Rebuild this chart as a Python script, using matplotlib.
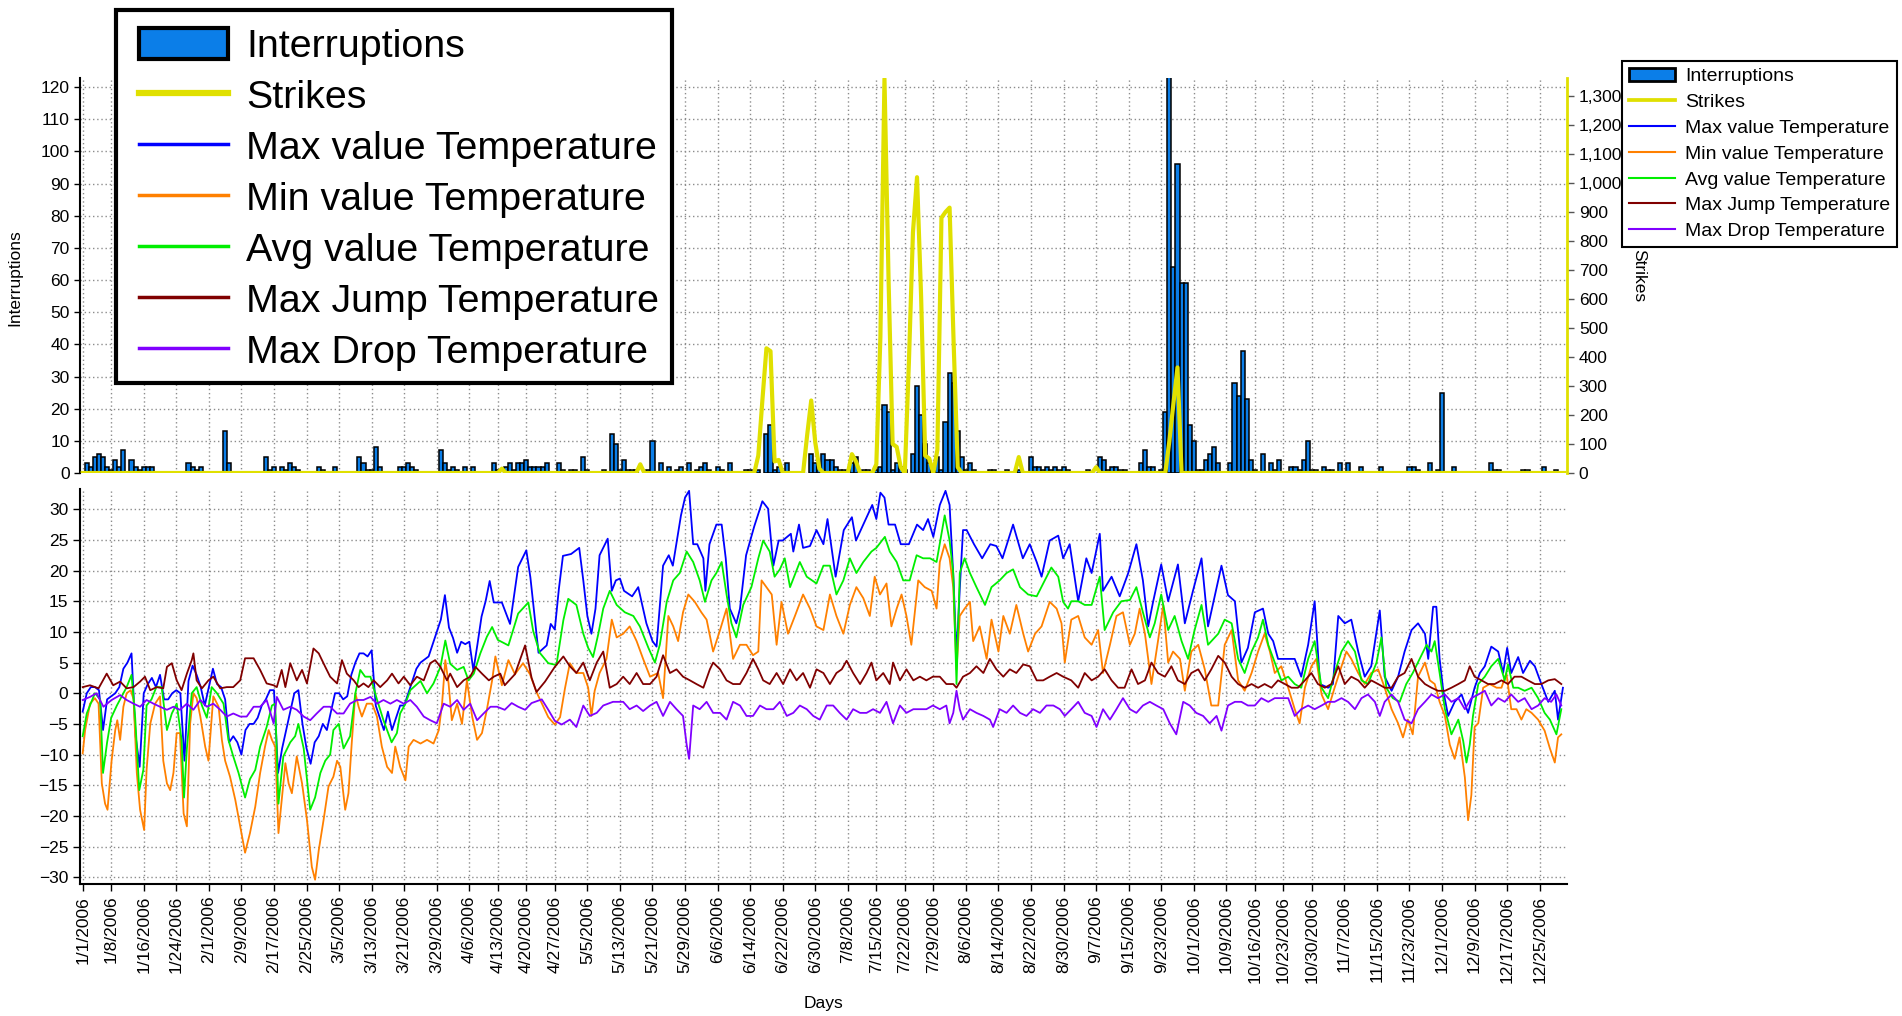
import datetime as dt

import matplotlib
matplotlib.use("Agg")
import matplotlib.pyplot as plt
import numpy as np
from matplotlib.lines import Line2D
from matplotlib.patches import Patch, Rectangle
from matplotlib.ticker import FuncFormatter, MultipleLocator

plt.rcParams['font.family'] = ['Liberation Sans', 'DejaVu Sans']

# ---- data (x = day of 2006, 0 = Jan 1) ----
tick_labels = ["1/1/2006", "1/8/2006", "1/16/2006", "1/24/2006", "2/1/2006", "2/9/2006",
               "2/17/2006", "2/25/2006", "3/5/2006", "3/13/2006", "3/21/2006", "3/29/2006",
               "4/6/2006", "4/13/2006", "4/20/2006", "4/27/2006", "5/5/2006", "5/13/2006",
               "5/21/2006", "5/29/2006", "6/6/2006", "6/14/2006", "6/22/2006", "6/30/2006",
               "7/8/2006", "7/15/2006", "7/22/2006", "7/29/2006", "8/6/2006", "8/14/2006",
               "8/22/2006", "8/30/2006", "9/7/2006", "9/15/2006", "9/23/2006", "10/1/2006",
               "10/9/2006", "10/16/2006", "10/23/2006", "10/30/2006", "11/7/2006", "11/15/2006",
               "11/23/2006", "12/1/2006", "12/9/2006", "12/17/2006", "12/25/2006"]

interrupt_days = [1, 2, 3, 4, 5, 6, 7, 8, 9, 10, 12, 13, 14, 15, 16, 17, 26, 27, 28, 29, 35, 36,
                  45, 46, 47, 49, 50, 51, 52, 53, 58, 59, 62, 68, 69, 70, 71, 72, 73, 78, 79, 80,
                  81, 82, 88, 89, 90, 91, 92, 94, 96, 101, 102, 104, 105, 106, 107, 108, 109, 110,
                  111, 112, 113, 114, 117, 118, 120, 121, 123, 124, 128, 130, 131, 132, 133, 134,
                  135, 136, 139, 140, 142, 144, 146, 147, 149, 151, 152, 153, 154, 156, 157, 159,
                  163, 164, 166, 168, 169, 170, 171, 173, 179, 180, 181, 182, 183, 184, 185, 186,
                  187, 189, 190, 192, 193, 195, 196, 197, 198, 199, 200, 201, 202, 204, 205, 206,
                  207, 208, 209, 210, 211, 212, 213, 214, 215, 216, 217, 218, 219, 223, 224, 227,
                  230, 233, 234, 235, 236, 237, 238, 239, 240, 241, 242, 247, 250, 251, 252, 253,
                  254, 255, 256, 260, 261, 262, 263, 265, 266, 267, 268, 269, 270, 271, 272, 273,
                  274, 275, 276, 277, 278, 279, 282, 283, 284, 285, 286, 287, 288, 290, 292, 293,
                  294, 297, 298, 299, 300, 301, 302, 303, 305, 306, 307, 309, 311, 314, 319, 326,
                  327, 328, 331, 333, 334, 337, 346, 347, 348, 354, 355, 359, 362]
interrupt_counts = [3, 2, 5, 6, 5, 2, 1, 4, 2, 7, 4, 2, 1, 2, 2, 2, 3, 2, 1, 2, 13, 3,
                    5, 1, 2, 2, 1, 3, 2, 1, 2, 1, 2, 5, 3, 1, 1, 8, 2, 2, 2, 3,
                    2, 1, 7, 3, 1, 2, 1, 2, 2, 3, 1, 2, 3, 1, 3, 3, 4, 2,
                    2, 2, 2, 3, 3, 1, 1, 1, 5, 1, 1, 12, 9, 1, 4, 1,
                    1, 1, 1, 10, 3, 2, 1, 2, 3, 1, 2, 3, 1, 2, 1, 3,
                    1, 1, 1, 12, 15, 1, 2, 3, 6, 3, 2, 6, 4, 4, 2, 1,
                    1, 3, 5, 1, 1, 1, 2, 21, 19, 1, 3, 2, 1, 6, 27, 18,
                    9, 3, 1, 5, 1, 16, 31, 28, 13, 5, 1, 3, 1, 1, 1, 1,
                    1, 5, 2, 2, 1, 2, 1, 2, 1, 2, 1, 1, 5, 4, 1, 2,
                    2, 1, 1, 3, 7, 2, 2, 1, 19, 123, 64, 96, 59, 59, 15, 10,
                    1, 1, 4, 6, 8, 3, 3, 28, 24, 38, 23, 4, 1, 6, 3, 1,
                    4, 2, 2, 1, 4, 10, 1, 1, 2, 1, 1, 3, 3, 2, 2, 2,
                    2, 1, 3, 1, 25, 2, 3, 1, 1, 1, 1, 2, 1]

strike_days = [103, 137, 166, 167, 168, 169, 170, 171, 178, 179, 180, 181, 189, 190, 195, 196,
               197, 198, 199, 200, 201, 203, 204, 205, 206, 207, 208, 210, 211, 212, 213, 214,
               215, 230, 249, 267, 268, 269]
strike_counts = [15, 30, 60, 250, 430, 420, 40, 45, 130, 250, 105, 15, 65, 40, 30, 470,
                 1360, 670, 100, 90, 20, 380, 830, 1020, 610, 60, 50, 80, 880, 900, 915, 447,
                 20, 55, 20, 110, 240, 364]

tmax_pts = [(0, -3), (1, 0), (2, 1), (3, 1), (4, 0.5), (5, -6), (6, -1), (7, -0.5), (8, 0), (9, 1),
            (10, 4), (11, 5), (12, 6.5), (13, -7), (14, -12), (15, 0), (16, 1.5), (17, 2.5), (18, 1),
            (19, 3), (20, -1), (21, -1), (22, 0), (23, 0.5), (24, 0), (25, -11), (26, 2), (27, 4.5),
            (28, 3), (29, 1), (30, -2), (31, 1), (32, 4), (33, 1.5), (34, 1), (35, -1), (36, -8),
            (37, -7), (38, -8), (39, -10), (40, -6), (41, -5), (42, -5), (43, -4), (44, -2), (45, -1),
            (46, 0.5), (47, 0.5), (48, -13), (49, -9), (50, -6), (51, -3), (52, 0), (53, 0.5), (54, -5),
            (55, -9), (56, -11.5), (57, -8), (58, -7), (59, -5), (60, -6), (61, -3), (62, 0), (63, 0),
            (64, -1), (65, -0.5), (66, 3), (67, 5), (68, 6.5), (69, 6.5), (70, 6), (71, 7), (72, -2),
            (73, -4), (74, -6), (75, -3), (76, -6), (77, -4), (78, -2), (79, -2), (80, 0), (81, 2),
            (82, 4), (83, 5), (84, 5.5), (85, 6), (86, 8), (87, 10), (88, 12), (89, 16), (90, 10.7),
            (91, 9), (92, 6.6), (93, 8.4), (94, 8), (95, 8.4), (96, 3.7), (97, 8), (98, 12.5), (99, 15),
            (100, 18.3), (101, 14.8), (103, 14.8), (105, 11.3), (107, 20.6), (109, 23.3), (110, 18.9),
            (112, 6.6), (114, 7.8), (115, 11.3), (116, 10.4), (117, 17), (118, 22.4), (120, 22.7),
            (122, 23.7), (123, 18.4), (124, 12.6), (125, 9.7), (126, 13.8), (127, 22.5), (129, 25.2),
            (130, 16.7), (131, 18.4), (132, 18.7), (133, 16.7), (135, 15.8), (136.5, 17.3), (138.5, 11.4),
            (140, 8.5), (141, 7.6), (142.6, 20.8), (144, 22.5), (145, 20.8), (146, 24.9), (147, 29),
            (148, 31.9), (149, 33), (150, 24.3), (151, 24.3), (152.5, 22), (153, 16.7), (154, 24.3),
            (155.7, 27.5), (157, 27.5), (158, 22), (159, 13.8), (160.6, 11.4), (161.5, 13.8), (163, 22.5),
            (165, 27.2), (167, 31.3), (168.4, 30.1), (169.7, 20.8), (171, 24.9), (172, 24.9), (174, 26),
            (174.6, 23.1), (176, 27.5), (177, 23.7), (178.7, 24), (180.3, 26.6), (182, 24.3), (183, 28.4),
            (185, 19), (187, 26.6), (189, 28.7), (190, 24.9), (192, 27.8), (194, 30.7), (195, 28.4),
            (196, 32.7), (197, 31.9), (198, 27.5), (199.6, 27.5), (201, 24.3), (203, 24.3), (205, 27.5),
            (206.5, 26.6), (207.7, 28.4), (209, 25.5), (210.6, 30.7), (212, 33), (213, 30.7), (214, 18),
            (214.7, 6), (215.5, 17), (216.3, 26.6), (217.2, 26.6), (219, 24.3), (221, 22), (223, 24.3),
            (224.5, 24), (226, 22), (228.6, 27.5), (231, 22), (232.7, 24.3), (234.4, 21.4), (235.6, 19),
            (237.6, 24.9), (239.7, 25.7), (240.9, 22), (242.5, 24.3), (244.6, 15), (246.6, 22),
            (247.9, 19.6), (249.9, 26), (250.7, 16.7), (252.8, 19), (254.8, 15.8), (256.9, 19.6),
            (258.9, 24.3), (260.5, 18.4), (261.8, 10.9), (263, 14.9), (265, 21), (266.7, 15), (269.1, 21),
            (270.8, 11.4), (272.8, 16.7), (274.9, 22), (276.5, 10.9), (278.2, 16), (279.8, 20.8),
            (281.4, 16), (283.1, 15), (284.7, 5), (286.3, 7.4), (288, 13.2), (290, 13.8), (291.3, 9.7),
            (292.5, 8.5), (293.7, 5.6), (295.4, 5.6), (297.8, 5.6), (299.4, 2.7), (301.1, 7.9),
            (302.7, 15), (304, 1.5), (306, 0.9), (307.2, 1.5), (308.5, 12.6), (310.1, 11.4), (311.7, 12),
            (313.4, 6.8), (315, 2.7), (316.6, 4.4), (318.7, 13.5), (319.9, 2.7), (321.6, 0.4),
            (323.2, 2.7), (324.8, 6.8), (326.5, 10.3), (328.1, 11.4), (329.8, 9.7), (330.6, 5.6),
            (331.8, 14.1), (332.6, 14.1), (333.4, 5.6), (334.3, 0.4), (335.5, -3.7), (337.1, -1.4),
            (338.8, -0.2), (340.4, -3.2), (342, 0.9), (343.3, 3.3), (344.5, 4.4), (346.1, 7.6),
            (347.8, 6.8), (349, 3.3), (350, 7.4), (351, 3.3), (352.7, 5.9), (353.9, 3.3), (355.6, 5.3),
            (356.8, 4.4), (358.4, 1.5), (360.1, -1.4), (361.7, 0.4), (362.5, -4.3), (363.7, 0.9)]

tmin_pts = [(0, -9.8), (0.6, -6), (1.8, -1.7), (3, -0.8), (3.9, -1.7), (4.7, -14.7), (5.5, -18),
            (6.1, -19), (7.1, -11), (8, -6), (8.5, -4.4), (9.2, -7.6), (10, -2.2), (10.8, 0), (11.8, 0.5),
            (12.5, -1), (13.3, -13), (14.1, -19), (15.1, -22.3), (15.7, -12.5), (16.6, -5), (17.8, -1.7),
            (19, -0.5), (19.8, -11), (20.7, -14.7), (21.5, -15.8), (22.3, -13), (23.1, -6.5),
            (23.9, -6.5), (24.8, -19.6), (25.6, -21.7), (26.4, -5), (27.2, 0), (28, -0.8), (28.9, -3.8),
            (30.1, -8.7), (30.9, -11), (32.1, -0.5), (33.4, -2.2), (34.2, -7.6), (35, -11), (36.2, -13.6),
            (37.5, -17.4), (38.7, -21.7), (39.9, -26), (41.1, -22.8), (42.4, -18.5), (43.6, -13),
            (44.8, -8.7), (45.7, -6), (46.5, -7.6), (47.3, -8.7), (48.1, -22.8), (48.9, -17.4),
            (49.8, -11.4), (50.6, -14.7), (51.4, -16.3), (52.6, -10.3), (53.9, -14.7), (55.1, -20.6),
            (56.3, -28.3), (57.1, -30.4), (58, -25.6), (59.2, -20.6), (60.4, -15.2), (61.6, -13.6),
            (62.5, -11), (63.3, -12), (64.5, -19), (65.3, -16.3), (66.1, -8.2), (67, 0), (67.8, -2.2),
            (68.6, -3.8), (69.8, -1.7), (71.1, -1.7), (72.3, -3.8), (73.5, -8.7), (74.8, -12), (76, -13),
            (76.8, -8.7), (78, -12), (79.3, -14.2), (80.1, -8.7), (81.3, -7.6), (83, -8.2), (84.6, -7.6),
            (86.2, -8.2), (87.5, -6), (88.3, -1.7), (89.1, 5.4), (89.9, 1.6), (90.7, -4.4), (92, -1.7),
            (93.2, -5), (94.4, 2.1), (95.7, -3.8), (96.9, -7.6), (98.1, -6.5), (99.3, -2.7), (100.6, 2.1),
            (101.4, 6), (103, 1.3), (104.6, 5.4), (106.2, 3.1), (108.2, 4.9), (109.9, 3.1), (111.5, 0.2),
            (113.2, -2.2), (114.4, -3.9), (116, -5.1), (117.3, -3.9), (118.5, 0.8), (119.7, 4.9),
            (121.3, 3.3), (123, 3.3), (124.2, 0.9), (125, -3.7), (125.8, 0.4), (127, 3.3), (128.7, 5.6),
            (130, 12), (131.2, 9.1), (132.8, 9.7), (134.4, 10.9), (136.1, 8.5), (137.7, 5.6), (139.4, 2.7),
            (141.4, 3.3), (142.6, -0.8), (143.9, 12.6), (145.1, 10.9), (146.3, 8.5), (147.5, 13.2),
            (148.8, 16.1), (150.4, 14.9), (152, 13.2), (153.3, 12), (154.9, 6.8), (156.6, 10.3),
            (158.2, 13.8), (159.8, 5.6), (161.5, 7.9), (163.1, 7.9), (164.7, 6.2), (166, 6.8),
            (166.8, 18.4), (168, 17.3), (169.3, 16.1), (170.5, 7.9), (171.7, 14.9), (173.3, 9.7),
            (175, 12.6), (177, 16.1), (178.7, 13.8), (180.3, 10.9), (182, 10.3), (183.6, 16.1),
            (185.2, 12.6), (186.9, 9.7), (188.5, 14.4), (190.1, 17.3), (191.8, 15.5), (193.4, 12.6),
            (194.6, 19), (195.9, 16.1), (197.5, 17.9), (198.7, 10.9), (200, 13.8), (201.2, 16.1),
            (202.4, 12.6), (203.6, 7.9), (205.3, 18.4), (206.9, 17.3), (208.6, 16.7), (209.8, 13.8),
            (210.6, 21.4), (211.8, 24.3), (213, 22), (213.9, 17.3), (214.7, 3.9), (215.5, 12.6),
            (216.7, 13.8), (218, 14.9), (218.8, 8.5), (220.4, 10.9), (222.1, 5.6), (223.3, 12),
            (225, 6.8), (226.2, 12.6), (227.8, 9.7), (229.4, 14.4), (231.1, 9.7), (232.3, 6.8),
            (234, 9.7), (235.6, 10.9), (237.6, 14.9), (239.3, 13.8), (240.5, 11.4), (241.3, 5),
            (242.9, 12), (244.6, 12.6), (246.2, 9.1), (247.9, 7.9), (249.5, 10.3), (250.7, 3.3),
            (252.4, 7.9), (254, 12.6), (255.6, 13.2), (257.3, 7.9), (258.5, 9.7), (259.7, 13.8),
            (261, 9.7), (262.6, 1.5), (264.2, 8.5), (265.5, 14.4), (266.7, 5), (267.9, 6.8), (269.6, 5.6),
            (270.8, 0.4), (272.4, 6.8), (274.1, 7.9), (275.7, 3.9), (277.3, -2), (279, -2), (280.6, 7.9),
            (282.3, 10.3), (283.9, 2.1), (285.5, 0.4), (287.2, 3.3), (288.8, 6.8), (290.4, 9.7),
            (291.7, 6.8), (292.9, 3.3), (294.5, 4.4), (296.2, 0.9), (297.8, -2.6), (299, -4.9),
            (300.3, 0.9), (301.9, 4.4), (303.1, 5.6), (304.4, -0.2), (306, -2.6), (307.6, 0.9),
            (309.3, 4.4), (310.5, 6.8), (311.7, 5.6), (313.4, 3.3), (315, 1.5), (316.6, 3.3),
            (318.3, 3.9), (319.9, 0.9), (321.6, -2.6), (323.2, -4.9), (324.4, -7.2), (325.6, -4.3),
            (326.8, -6.7), (328.1, 2.7), (329.8, 5), (331, 2.1), (332.2, 1.5), (333.4, -1.4),
            (334.7, -3.7), (335.9, -8.4), (337.1, -10.7), (338.3, -7.2), (339.6, -13.7), (340.4, -20.7),
            (341.2, -16.6), (342, -5.5), (342.9, -4.9), (344.1, 0.9), (345.7, 1.5), (347.4, 0.9),
            (348.6, 0.9), (349.8, 3.3), (351, -2.6), (352.3, -2.6), (353.5, -4.3), (354.7, -2.6),
            (356, -3.2), (357.6, -4.3), (359.2, -6.1), (360.5, -9), (361.7, -11.3), (362.5, -7.2),
            (363.3, -6.7)]

tavg_pts = [(0, -7), (1, -3.3), (3, 0), (4.3, -1), (5, -13), (6, -8), (7, -4), (8.4, -2), (9.6, -0.5),
            (10.8, 1), (12, 3), (12.9, -4), (13.9, -15.8), (14.9, -12.5), (15.7, -2), (16.9, -1),
            (18.1, 1), (19.4, 1), (20.7, -6), (21.9, -3.3), (23.1, -1.7), (24.3, -7.6), (24.9, -17),
            (25.6, -9), (26.8, 0), (28, 1), (29.3, -2), (30.5, -4), (31.7, 1), (33, 0), (34.6, -1.7),
            (35.8, -7.6), (37, -10.3), (38.3, -13), (39.9, -17), (41.1, -14), (42.4, -12.5), (43.6, -8.7),
            (45.2, -5.5), (46.5, -2), (47.3, -1.7), (48.1, -18), (49.3, -10.3), (51, -8), (52.2, -7),
            (53, -5), (54.3, -9), (55.9, -19), (57.1, -17), (58.4, -13), (59.6, -11), (60.8, -10),
            (61.6, -6), (62.9, -5), (64.1, -9), (65.7, -7), (67, 0), (68.2, 3.8), (69.4, 2.7), (70.7, 2.7),
            (72.3, -1), (73.9, -4.4), (75.9, -8), (77.2, -6.5), (78, -3.3), (79.3, -1.7), (80.5, 0.5),
            (83, 2), (84.6, 0), (86.2, 1.6), (87.9, 4.3), (89.1, 8.6), (90.3, 4.8), (92, 3.8), (93.6, 4.3),
            (94.8, 2.1), (96.1, 3.2), (97.7, 6.5), (99.3, 9.2), (100.6, 10.8), (102, 8.7), (104.6, 7.8),
            (107, 13), (109.5, 14.8), (110.7, 10.1), (112.3, 6.6), (114.4, 4.9), (116.4, 4.6),
            (118.1, 11.9), (119.3, 15.4), (121.3, 14.4), (123, 9.7), (124.2, 7.4), (125.4, 5.9),
            (126.7, 9.7), (127.9, 13.8), (129.5, 16.7), (131.2, 14.4), (133.2, 13.2), (135.3, 12.6),
            (136.9, 10.9), (139, 7.4), (140.6, 5), (141.8, 7.9), (143.5, 14.9), (145.1, 18.4),
            (146.7, 19.6), (148.4, 23.1), (150, 21.4), (151.6, 18.4), (152.9, 14.9), (154.5, 18.4),
            (155.7, 19.6), (157, 21.4), (158.2, 16.1), (159.4, 11.4), (160.6, 9.1), (162.3, 14.4),
            (164.3, 17.3), (166, 22), (167.2, 24.9), (168.8, 23.1), (170, 19), (171.3, 20.2), (172.5, 22),
            (173.8, 17.3), (176.2, 21.4), (177.9, 19), (180.3, 17.9), (182, 20.8), (183.6, 20.8),
            (185.2, 16.1), (186.9, 18.4), (188.5, 22), (190.1, 19.6), (191.8, 21.4), (193.8, 23.1),
            (195, 23.7), (197.1, 25.5), (198.3, 23.1), (200, 21.4), (201.6, 18.4), (203.2, 18.4),
            (204.9, 22.5), (206.5, 22), (208.2, 22), (209.8, 21.4), (211, 26), (211.8, 29), (213, 24.9),
            (213.9, 19.6), (214.7, 1.5), (215.5, 19.6), (216.7, 22), (218, 19.6), (219.6, 17.3),
            (221.7, 14.4), (223.3, 17.3), (225.3, 18.4), (227, 19.6), (228.6, 20.2), (230.3, 17.3),
            (232.3, 16.1), (234.4, 15.8), (236.4, 18.4), (238, 20.5), (239.7, 19), (240.9, 14.9),
            (242.1, 13.8), (242.9, 15), (244.6, 15), (246.2, 14.4), (247.9, 14.4), (249.9, 19),
            (251.1, 10.3), (253.2, 13.2), (255.2, 15), (257.3, 15.2), (258.9, 17.3), (260.5, 13.2),
            (262.2, 9.1), (263.4, 11.4), (265, 16.1), (266.7, 10.3), (268.3, 12.6), (270, 8.5),
            (271.6, 5.6), (273.2, 10.3), (274.9, 14.4), (276.5, 7.9), (279, 9.7), (280.6, 12),
            (282.3, 11.4), (283.9, 5.6), (285.5, 3.3), (287.2, 6.8), (288.8, 9.1), (290, 12), (291.3, 7.9),
            (292.9, 5), (294.5, 2.1), (296.2, 2.7), (297.8, 1.5), (299.4, 0.9), (301.1, 5.6), (302.7, 8.5),
            (304.4, 0.9), (306, -0.8), (307.6, 3.3), (309.3, 6.8), (310.9, 8.5), (312.6, 6.8),
            (314.2, 2.1), (315.8, 1.5), (317.9, 5), (319.1, 9.1), (320.3, 0.9), (321.9, -0.8),
            (323.6, -1.4), (325.2, 1.5), (326.8, 3.3), (328.5, 5.6), (330.2, 7.9), (331.4, 6.8),
            (332.2, 8.5), (333.4, 3.3), (334.7, -2.6), (336.3, -6.7), (338, -4.3), (339.2, -7.8),
            (340, -11.3), (340.8, -8.4), (341.6, -3.7), (342.9, 1.5), (344.5, 2.7), (346.1, 4.4),
            (347.8, 5.6), (349.4, 2.1), (350.2, 4.7), (351.5, 0.9), (352.7, 0.9), (354.3, 0.4),
            (356, 0.9), (357.6, -0.8), (359.2, -3.2), (360.5, -4.3), (362.1, -6.7), (363.3, -2.6)]

jump_pts = [(0, 1), (1.8, 1.3), (3.9, 0.8), (5.9, 3.2), (7.5, 1.3), (9.2, 1.9), (10.8, 0.8), (12.5, 1),
            (14.1, 1.9), (15.3, 2.7), (16.6, 0.5), (18.2, 1), (19.8, 0.8), (20.7, 4.3), (21.9, 4.9),
            (23.1, 2.1), (24.3, 0.5), (25.6, 3.2), (26.8, 5.4), (27.2, 6.5), (28, 2.1), (29.3, 0.8),
            (30.9, 2.1), (32.1, 2.7), (33.8, 0.8), (35.4, 1), (37, 1), (38.7, 2.1), (39.9, 5.7), (42, 5.7),
            (43.6, 3.8), (45.2, 1.6), (46.9, 1.3), (47.7, 1), (48.9, 3.8), (49.8, 1), (51, 4.9),
            (52.6, 2.1), (53.9, 3.8), (55.1, 1.6), (56.7, 7.3), (58, 6.5), (59.6, 4.3), (60.8, 2.7),
            (62.5, 1.6), (63.7, 5.4), (64.9, 3.2), (66.6, 2.1), (67.8, 1), (69, 1.6), (70.2, 1),
            (71.5, 2.1), (73.1, 1), (74.8, 2.1), (76, 3.2), (77.6, 1.6), (78.9, 2.7), (80.5, 1.3),
            (82.1, 2.7), (83.8, 2.1), (85.4, 4.9), (86.6, 5.4), (87.9, 4.3), (89.5, 2.1), (90.3, 3.2),
            (92, 1), (93.6, 2.1), (95.2, 2.7), (96.5, 4.3), (98.1, 3.2), (99.8, 2.1), (101, 2.7),
            (102.6, 3.2), (103.7, 1.3), (106.2, 3.1), (108.7, 7.8), (110.3, 2.5), (111.5, 0.2),
            (113.6, 1.9), (116, 4.3), (118.1, 6), (119.7, 4.4), (121.3, 3.3), (123, 5), (124.6, 2.1),
            (126.3, 5), (127.9, 6.8), (129.5, 0.9), (131.2, 1.5), (132.8, 2.7), (134.4, 1.5), (136.1, 3.3),
            (137.7, 1.5), (139.4, 1.5), (141, 2.7), (142.6, 6.2), (144.3, 3.3), (145.9, 3.9), (147.5, 2.7),
            (149.2, 2.1), (150.8, 1.5), (152.5, 0.9), (154.1, 3.9), (154.9, 5), (156.6, 3.9), (158.2, 2.1),
            (159.8, 1.5), (161.5, 1.5), (163.1, 3.3), (164.7, 5.6), (166, 3.9), (167.2, 2.1), (168.8, 1.5),
            (170.5, 3.3), (172.1, 1.5), (173.8, 3.9), (175.4, 2.1), (177, 3.3), (178.7, 0.9), (180.3, 3.9),
            (182, 3.3), (183.6, 1.5), (185.2, 3.3), (186.5, 3.9), (187.7, 5.3), (189.3, 3.3), (191, 1.5),
            (192.6, 3.3), (193.8, 5), (195, 2.1), (196.7, 3.3), (198.3, 1.5), (199.1, 5), (200.8, 2.1),
            (202.4, 3.9), (204.1, 2.1), (205.7, 2.7), (207.3, 2.1), (208.9, 2.7), (210.6, 2.7),
            (212.2, 1.5), (213.9, 1.5), (214.7, 0.9), (216.3, 2.7), (218, 3.3), (219.6, 4.4), (221.3, 3.3),
            (222.9, 5.6), (224.5, 3.9), (226.2, 2.7), (227.8, 3.9), (229.4, 3.3), (231.1, 4.7),
            (232.7, 4.4), (234.4, 2.1), (236, 2.1), (237.6, 2.7), (239.3, 3.3), (240.9, 2.7), (242.9, 2.1),
            (244.6, 0.9), (246.2, 3.3), (247.9, 2.1), (249.5, 2.7), (251.1, 3.9), (252.8, 2.1),
            (254.4, 0.9), (256, 0.9), (257.7, 3.9), (259.3, 1.5), (261, 2.1), (262.6, 5), (264.2, 3.3),
            (265.9, 2.7), (267.5, 4.4), (269.1, 2.1), (270.8, 1.5), (272.4, 3.3), (274.1, 3.9),
            (275.7, 2.1), (277.3, 3.9), (279, 6.1), (280.6, 5), (282.3, 2.7), (283.9, 1.5), (285.5, 0.9),
            (287.2, 1.5), (288.8, 0.9), (290.4, 1.5), (292.1, 0.9), (293.7, 2.1), (295.4, 1.5), (297, 0.9),
            (298.6, 0.9), (300.3, 2.1), (301.9, 3.3), (303.5, 1.5), (305.2, 0.9), (306.8, 1.5),
            (308.5, 4.4), (310.1, 1.5), (311.7, 2.7), (313.4, 2.1), (315, 0.9), (316.6, 2.1), (318.3, 1.5),
            (319.9, 0.9), (321.6, 0.9), (323.2, 2.7), (324.8, 3.3), (326.5, 5.6), (328.1, 2.7),
            (329.8, 1.5), (331.4, 0.9), (333, 0.4), (334.7, 0.4), (336.3, 0.9), (338, 1.5), (339.6, 2.1),
            (340.8, 4.4), (342, 2.7), (343.7, 2.1), (345.3, 1.5), (346.9, 1.5), (348.6, 2.1), (350.2, 1.5),
            (351.8, 2.7), (353.5, 2.7), (355.1, 2.1), (356.8, 1.5), (358.4, 1.5), (360.1, 2.1),
            (361.7, 2.3), (363.3, 1.5)]

drop_pts = [(0, -1.1), (1.8, -0.6), (3.4, 0), (5.1, -2.2), (7.1, -1.1), (9.2, -0.3), (10.8, -1.1),
            (12.5, -1.7), (14.1, -2.2), (15.7, -1.1), (17.4, -1.7), (19, -2.2), (20.7, -2.7), (22.3, -2.2),
            (23.9, -2.7), (25.6, -1.7), (27.2, -2.7), (28.9, -1.1), (30.5, -2.2), (32.1, -1.7),
            (33.8, -2.7), (35.4, -3.8), (37, -3.3), (38.7, -3.8), (40.3, -3.8), (42, -2.2), (43.6, -2.2),
            (45.2, -1.1), (46.9, -4.9), (47.7, -0.6), (49.3, -2.7), (51, -2.2), (52.6, -2.7), (54.3, -3.8),
            (55.9, -4.4), (57.5, -3.3), (59.2, -2.2), (60.8, -2.2), (62.5, -3.3), (64.1, -3.3),
            (65.7, -1.7), (67.4, -1.1), (69, -1.1), (70.7, -0.6), (72.3, -1.7), (73.9, -1.1), (75.6, -1.7),
            (77.2, -1.1), (78.9, -1.7), (80.5, -1.1), (82.1, -2.2), (83.8, -3.8), (85.4, -4.4), (87, -4.9),
            (88.7, -1.7), (90.3, -2.2), (92, -1.1), (93.6, -2.7), (95.2, -1.7), (96.9, -4.4), (98.5, -3.3),
            (100.2, -2.2), (101.8, -2.2), (103.7, -2.7), (105.4, -1.6), (107, -2.2), (108.7, -2.7),
            (110.3, -1.6), (112.8, -1), (114.4, -2.7), (116, -4.5), (117.7, -5.1), (119.7, -4.3),
            (121.3, -5.5), (123, -2), (124.6, -3.7), (126.3, -3.2), (127.9, -2), (130.3, -1.4),
            (132.8, -1.4), (134.4, -2.6), (136.1, -2), (137.7, -2.9), (139.4, -2), (141, -1.4),
            (142.6, -3.7), (144.3, -1.4), (145.9, -2.6), (147.5, -3.7), (148.4, -8.4), (149, -10.7),
            (150, -2), (151.6, -2.6), (153.3, -1.4), (154.9, -3.2), (156.6, -3.2), (158.2, -4.3),
            (159.8, -1.4), (161.5, -2), (163.1, -3.7), (164.7, -3.7), (166.4, -2), (168, -2.6),
            (169.7, -2.6), (171.3, -1.4), (173, -3.7), (174.6, -3.2), (176.2, -2), (177.9, -2.6),
            (179.5, -3.7), (181.1, -4.3), (182.8, -2), (184.4, -2), (186, -3.2), (187.7, -4.3),
            (189.3, -2.6), (191, -3.2), (192.6, -3.2), (194.2, -2.6), (195.9, -3.2), (197.5, -1.4),
            (199.1, -4.9), (200.8, -2), (202.4, -3.2), (204.1, -2.6), (205.7, -2.6), (207.3, -2.6),
            (208.9, -2), (210.6, -2.6), (212.2, -2), (213, -4.9), (213.9, -3.2), (214.7, 0.4),
            (215.5, -2.6), (216.3, -4.3), (218, -2.6), (219.6, -3.2), (221.3, -3.7), (222.9, -4.3),
            (223.7, -5.5), (225.3, -2.6), (227, -3.2), (228.6, -2), (230.3, -3.2), (231.9, -3.7),
            (233.5, -2.6), (235.2, -3.2), (236.8, -2), (238.5, -2), (240.1, -2.6), (241.3, -3.7),
            (242.9, -2.6), (244.6, -1.4), (246.2, -3.2), (247.9, -3.7), (249.1, -5.5), (250.7, -2.6),
            (252.4, -4.3), (254, -2.6), (255.6, -0.8), (257.3, -2.6), (258.9, -3.2), (260.5, -2),
            (262.2, -1.4), (263.8, -2), (265.5, -2.6), (267.1, -4.9), (268.7, -6.7), (270.4, -1.4),
            (272, -2), (273.6, -3.2), (275.3, -3.7), (276.9, -4.9), (278.6, -3.7), (279.8, -6.1),
            (281.4, -2), (283.1, -1.4), (284.7, -1.4), (286.3, -2), (288, -2), (289.6, -0.8),
            (291.3, -1.4), (292.9, -0.8), (294.5, -0.8), (296.2, -0.8), (297.8, -3.7), (299.4, -2.6),
            (301.1, -2), (302.7, -2.6), (304.4, -2), (306, -1.4), (307.6, -1.4), (309.3, -0.8),
            (310.9, -1.4), (312.6, -2.6), (314.2, -0.8), (315.8, -0.2), (317.5, -1.4), (318.7, -3.7),
            (319.9, -1.4), (321.6, -0.2), (323.2, -1.4), (324.8, -4.3), (326.5, -4.9), (328.1, -2.6),
            (329.8, -1.4), (331.4, -0.2), (333, -0.8), (334.7, -0.2), (336.3, -1.4), (338, -0.8),
            (339.6, -2.6), (341.2, -0.8), (342.9, -0.2), (344.5, 0.4), (346.1, -2), (347.8, -0.8),
            (349.4, -1.4), (351, -0.2), (352.7, -1.4), (354.3, -0.8), (356, -2.6), (357.6, -2),
            (359.2, -0.8), (360.8, -1.4), (362.1, -0.2), (363.3, -2)]

# ---- styling ----
BAR = "#0b7ee8"
YEL = "#e0e000"
C_MAX = "#0000ff"
C_MIN = "#ff8000"
C_AVG = "#00ee00"
C_JUMP = "#800000"
C_DROP = "#8000ff"
GRID = dict(color="#8c8c8c", linestyle=(0, (1, 2)), linewidth=1.0)
TICK_FS = 12.5

W, H = 1902, 1016


def frame(x0, y0, x1, y1):
    return [x0 / W, 1 - y1 / H, (x1 - x0) / W, (y1 - y0) / H]


fig = plt.figure(figsize=(W / 100, H / 100), dpi=100)
ax = fig.add_axes(frame(80, 78, 1567, 473))
axb = fig.add_axes(frame(80, 489, 1567, 884), sharex=ax)
ax2 = ax.twinx()

# day positions of the date ticks
t0 = dt.date(2006, 1, 1)
tick_pos = [(dt.datetime.strptime(s, "%m/%d/%Y").date() - t0).days for s in tick_labels]

# --- top: interruptions + strikes ---
days = np.arange(365)
inter = np.zeros(365)
inter[interrupt_days] = interrupt_counts
strikes = np.zeros(365)
strikes[strike_days] = strike_counts
nz = inter > 0
ax.bar(days[nz], inter[nz], width=1.0, color=BAR, edgecolor="black", linewidth=1.1)
ax2.plot(days, strikes, color=YEL, linewidth=3)

ax.set_ylim(0, 122.8)
ax2.set_ylim(0, 1362)
ax.yaxis.set_major_locator(MultipleLocator(10))
ax2.yaxis.set_major_locator(MultipleLocator(100))
ax2.yaxis.set_major_formatter(FuncFormatter(lambda v, p: f"{int(v):,}"))
ax.set_xlim(-0.66, 364.7)
ax.grid(True, **GRID)
ax.set_axisbelow(True)
for s in ("top", "bottom", "right"):
    ax.spines[s].set_visible(False)
for s in ("top", "bottom", "left"):
    ax2.spines[s].set_visible(False)
ax.spines["left"].set_linewidth(1.5)
ax2.spines["right"].set_color(YEL)
ax2.spines["right"].set_linewidth(2)
ax.tick_params(axis="y", labelsize=TICK_FS, length=4, width=1)
ax.tick_params(axis="x", length=0, labelbottom=False)
ax2.tick_params(axis="y", labelsize=TICK_FS, length=5, width=1, color="#555555")
ax2.set_ylabel("Strikes", rotation=270, fontsize=TICK_FS, labelpad=16)
ax2.yaxis.set_label_coords(1.053, 0.5)
fig.text(15 / W, 1 - 278 / H, "Interruptions", rotation=90, ha="center", va="center",
         fontsize=TICK_FS)

# --- bottom: temperatures ---
for pts, col in ((tmax_pts, C_MAX), (tmin_pts, C_MIN), (tavg_pts, C_AVG),
                 (jump_pts, C_JUMP), (drop_pts, C_DROP)):
    xs, ys = zip(*pts)
    axb.plot(xs, ys, color=col, linewidth=1.3)

axb.set_ylim(-31.1, 33.3)
axb.yaxis.set_major_locator(MultipleLocator(5))
axb.grid(True, **GRID)
axb.set_axisbelow(True)
for s in ("top", "right"):
    axb.spines[s].set_visible(False)
for s in ("left", "bottom"):
    axb.spines[s].set_linewidth(1.5)
axb.set_xticks(tick_pos)
axb.set_xticklabels(tick_labels, rotation=90)
axb.tick_params(axis="both", labelsize=TICK_FS, length=5, width=1)
axb.set_xlabel("Days", fontsize=TICK_FS)
axb.xaxis.set_label_coords(0.5, -0.283)


# --- legends ---
def handles(lw):
    return [Patch(facecolor=BAR, edgecolor="black", linewidth=lw + 0.5, label="Interruptions"),
            Line2D([], [], color=YEL, linewidth=lw * 1.8, label="Strikes"),
            Line2D([], [], color=C_MAX, linewidth=lw, label="Max value Temperature"),
            Line2D([], [], color=C_MIN, linewidth=lw, label="Min value Temperature"),
            Line2D([], [], color=C_AVG, linewidth=lw, label="Avg value Temperature"),
            Line2D([], [], color=C_JUMP, linewidth=lw, label="Max Jump Temperature"),
            Line2D([], [], color=C_DROP, linewidth=lw, label="Max Drop Temperature")]


# big overlay legend: white box with a heavy border, entries placed inside it
fig.add_artist(Rectangle((116 / W, 1 - 383 / H), 556 / W, 373 / H, transform=fig.transFigure,
                         facecolor="white", edgecolor="black", linewidth=3, zorder=4.9))
fig.legend(handles=handles(2.5), loc="upper left", bbox_to_anchor=(139 / W, 1 - 27.5 / H),
           fontsize=28.4, frameon=False, handlelength=2.26, handleheight=0.85,
           handletextpad=0.46, labelspacing=0.345, borderpad=0, borderaxespad=0)

small = fig.legend(handles=handles(1.5), loc="upper left", bbox_to_anchor=(1622 / W, 1 - 61 / H),
                   fontsize=14, frameon=True, fancybox=False, framealpha=1, edgecolor="black",
                   handlelength=2.4, handleheight=0.7, handletextpad=0.5, labelspacing=0.42,
                   borderpad=0.35, borderaxespad=0)
small.get_frame().set_linewidth(1.5)

fig.savefig("out.png", dpi=100)
